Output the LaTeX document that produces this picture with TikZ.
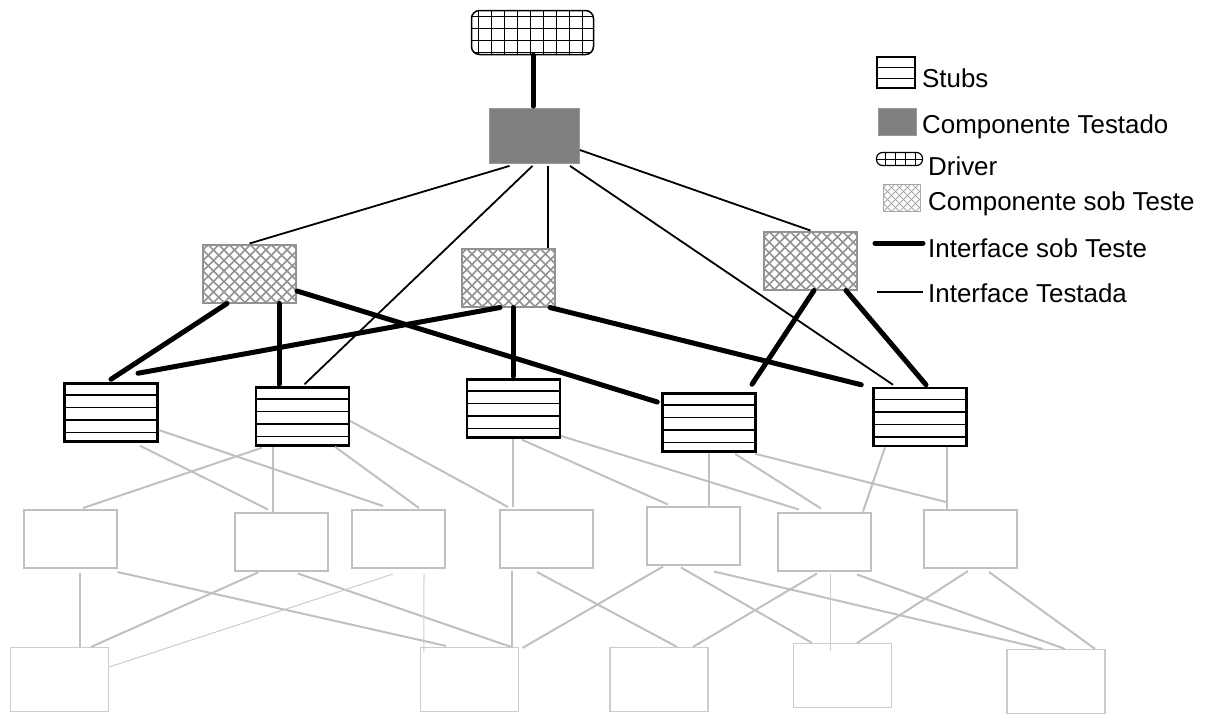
\documentclass[tikz,border=0pt]{standalone}
\usepackage{fontspec}
\setmainfont{Liberation Sans}
\usetikzlibrary{calc}
\definecolor{tbTested}{HTML}{808080}
\definecolor{tbHatch}{HTML}{929292}
\definecolor{tbLower}{HTML}{C0C0C0}
\definecolor{tbLeaf}{HTML}{CCCCCC}
\tikzset{
    tbBoxBase/.style={
        rectangle,
        inner sep=0pt,
        minimum width=93pt,
        minimum height=58pt
    },
    % Stubs
    stubbox/.style={tbBoxBase, draw=black, line width=2.5pt, fill=white,
        path picture={
            \foreach \d in {11.5pt,24pt,36.5pt,49pt}
                \draw[line width=1.2pt] ([yshift=-\d]path picture bounding box.north west) -- ([yshift=-\d]path picture bounding box.north east);
        }},
    stubicon/.style={draw=black, line width=1.3pt, inner sep=0pt, minimum width=38pt, minimum height=31pt,
        path picture={
            \foreach \d in {10pt,21pt}
                \draw[line width=1pt] ([yshift=-\d]path picture bounding box.north west) -- ([yshift=-\d]path picture bounding box.north east);
        }},
    % Componente sob Teste
    cutbox/.style={tbBoxBase, draw=tbHatch, line width=2pt, fill=white,
        path picture={
            \foreach \k in {-7,...,16}{
                \draw[tbHatch, line width=1.6pt] ([xshift=\k*10.5pt]path picture bounding box.south west) -- ++(80pt,80pt);
                \draw[tbHatch, line width=1.6pt] ([xshift=\k*10.5pt]path picture bounding box.south west) -- ++(-80pt,80pt);
            }
        }},
    cuticon/.style={draw=tbHatch!80, line width=1pt, inner sep=0pt, minimum width=37pt, minimum height=27pt,
        path picture={
            \foreach \k in {-5,...,10}{
                \draw[tbHatch!80, line width=0.8pt] ([xshift=\k*8pt]path picture bounding box.south west) -- ++(40pt,40pt);
                \draw[tbHatch!80, line width=0.8pt] ([xshift=\k*8pt]path picture bounding box.south west) -- ++(-40pt,40pt);
            }
        }},
    % Driver
    drvbox/.style={draw=black, line width=1.5pt, rounded corners=8pt, fill=white, inner sep=0pt,
        minimum width=122pt, minimum height=44pt,
        path picture={
            \foreach \k in {0,...,8}
                \draw[line width=1.3pt, sharp corners] ([xshift=6.7pt+\k*13pt]path picture bounding box.south west) -- ++(0pt,50pt);
            \foreach \k in {0,...,3}
                \draw[line width=1.3pt, sharp corners] ([yshift=-6pt-\k*12pt]path picture bounding box.north west) -- ++(130pt,0pt);
        }},
    drvicon/.style={draw=black, line width=1.2pt, rounded corners=6pt, inner sep=0pt, minimum width=46pt, minimum height=13pt,
        path picture={
            \foreach \k in {0,...,3}
                \draw[line width=1pt, sharp corners] ([xshift=9pt+\k*10pt]path picture bounding box.south west) -- ++(0pt,20pt);
            \draw[line width=1pt, sharp corners] (path picture bounding box.west) -- (path picture bounding box.east);
        }},
    % Componente Testado
    ctbox/.style={tbBoxBase, fill=tbTested, draw=tbTested!80, line width=0.8pt},
    % lower levels
    lvlbox/.style={tbBoxBase, draw=tbLower, line width=2pt, fill=white},
    leafbox/.style={tbBoxBase, draw=tbLeaf, line width=1.2pt, minimum width=98pt, minimum height=64pt}
}
\begin{document}
\begin{tikzpicture}[
    x=1pt, y=-1pt,
    sobTeste/.style={line width=5pt, line cap=round},
    testada/.style={line width=1.8pt},
    grayLink/.style={draw=tbLower, line width=2pt},
    thinLink/.style={draw=tbLeaf, line width=1pt},
    legendtext/.style={anchor=base west, inner sep=0pt, font=\fontsize{25.9}{30}\selectfont}
]
\useasboundingbox (0,0) rectangle (1205,713);

\node[drvbox] (driver) at (532.5,32.5) {};
\node[ctbox, minimum width=90pt, minimum height=55pt] (ct) at (534.5,136) {};

\node[cutbox] (cut1) at (249.5,273.5) {};
\node[cutbox] (cut2) at (508,277.5) {};
\node[cutbox] (cut3) at (810.5,260.5) {};

\node[stubbox] (s1) at (111,412.5) {};
\node[stubbox] (s2) at (302.5,416.5) {};
\node[stubbox] (s3) at (513.5,408.5) {};
\node[stubbox] (s4) at (709,422.5) {};
\node[stubbox] (s5) at (920,417) {};

\node[lvlbox] (g1) at (70,539) {};
\node[lvlbox] (g2) at (281,541.5) {};
\node[lvlbox] (g3) at (398,539) {};
\node[lvlbox] (g4) at (546,539) {};
\node[lvlbox] (g5) at (693,535.5) {};
\node[lvlbox] (g6) at (824,541.5) {};
\node[lvlbox] (g7) at (970.5,539) {};

\node[leafbox] (b1) at (59.5,679.5) {};
\node[leafbox] (b2) at (469.5,679.5) {};
\node[leafbox] (b3) at (659,679.5) {};
\node[leafbox] (b4) at (842.5,675.5) {};
\node[leafbox] (b5) at (1056,681.5) {};

% interfaces testadas
\draw[testada] ([xshift=-25pt,yshift=-2pt]ct.south) -- (cut1.north);
\draw[testada] ([xshift=-2pt,yshift=-2pt]ct.south) -- ([xshift=2pt,yshift=2pt]s2.north);
\draw[testada] ([xshift=13.5pt,yshift=-2pt]ct.south) -- ([xshift=40pt]cut2.north);
\draw[testada] ([xshift=35.5pt,yshift=-2pt]ct.south) -- ([xshift=-27pt,yshift=2pt]s5.north);
\draw[testada] ([yshift=-14pt]ct.east) -- (cut3.north);

% interfaces sob teste
\draw[sobTeste] ([xshift=0.5pt]driver.south) -- ([xshift=-1.5pt,yshift=2pt]ct.north);
\draw[sobTeste] ([xshift=-22.5pt]cut1.south) -- ([yshift=3pt]s1.north);
\draw[sobTeste] ([xshift=29.5pt]cut1.south) -- ([xshift=-23.5pt,yshift=2pt]s2.north);
\draw[sobTeste] ([yshift=-17.5pt]cut1.east) -- ([xshift=-4pt,yshift=20.5pt]s4.west);
\draw[sobTeste] ([xshift=-8pt]cut2.south) -- ([xshift=27pt,yshift=9pt]s1.north);
\draw[sobTeste] ([xshift=5pt]cut2.south) -- ([xshift=-0.5pt,yshift=2pt]s3.north);
\draw[sobTeste] ([xshift=42pt]cut2.south) -- ([xshift=-11pt,yshift=2pt]s5.north west);
\draw[sobTeste] ([xshift=3.5pt]cut3.south) -- ([xshift=43pt,yshift=8pt]s4.north);
\draw[sobTeste] ([xshift=35.5pt]cut3.south) -- ([xshift=6pt,yshift=2pt]s5.north);

% stubs -> componentes
\draw[grayLink] ([yshift=-17.5pt]s1.east) -- ([xshift=-15pt,yshift=3pt]g3.north);
\draw[grayLink] ([xshift=29pt,yshift=-3pt]s1.south) -- ([xshift=-13pt,yshift=2pt]g2.north);
\draw[grayLink] ([xshift=-40.5pt,yshift=-1pt]s2.south) -- ([xshift=13pt,yshift=1pt]g1.north);
\draw[grayLink] ([xshift=-29.5pt]s2.south) -- ([xshift=-8pt]g2.north);
\draw[grayLink] ([xshift=32.5pt]s2.south) -- ([xshift=21pt,yshift=1pt]g3.north);
\draw[grayLink] ([yshift=-4.5pt]s2.east) -- ([xshift=-38pt,yshift=2pt]g4.north);
\draw[grayLink] ([xshift=-0.5pt]s3.south) -- ([xshift=-33pt,yshift=2pt]g4.north);
\draw[grayLink] ([xshift=8.5pt,yshift=-1pt]s3.south) -- ([xshift=-25pt,yshift=1pt]g5.north);
\draw[grayLink] ([yshift=-27.5pt]s3.east) -- ([xshift=-25pt,yshift=2pt]g6.north);
\draw[grayLink] (s4.south) -- ([xshift=16pt]g5.north);
\draw[grayLink] ([xshift=26pt,yshift=-1pt]s4.south) -- ([xshift=-3pt,yshift=3pt]g6.north);
\draw[grayLink] ([xshift=46pt,yshift=-1pt]s4.south) -- ([xshift=-24.5pt,yshift=7pt]g7.north);
\draw[grayLink] ([xshift=-35pt]s5.south) -- ([xshift=39pt]g6.north);
\draw[grayLink] ([xshift=27pt]s5.south) -- ([xshift=-23.5pt]g7.north);

% componentes -> folhas
\draw[grayLink] ([xshift=10pt,yshift=-4pt]g1.south) -- ([xshift=20.5pt]b1.north);
\draw[grayLink] ([yshift=-3pt]g1.south east) -- ([xshift=-23.5pt,yshift=1pt]b2.north);
\draw[grayLink] ([xshift=-23pt,yshift=-1pt]g2.south) -- ([xshift=31.5pt]b1.north);
\draw[grayLink] ([xshift=17pt,yshift=-2pt]g2.south) -- ([xshift=41.5pt]b2.north);
\draw[thinLink] ([xshift=-5pt,yshift=-5pt]g3.south) -- ([yshift=12.5pt]b1.east);
\draw[thinLink] ([xshift=26pt,yshift=-5pt]g3.south) -- ([xshift=4pt,yshift=-5pt]b2.north west);
\draw[grayLink] ([xshift=-34pt,yshift=-2pt]g4.south) -- ([xshift=42.5pt]b2.north);
\draw[grayLink] ([xshift=-9pt,yshift=-3pt]g4.south) -- ([xshift=18pt]b3.north);
\draw[grayLink] ([xshift=-30pt,yshift=-1pt]g5.south) -- ([xshift=3.5pt,yshift=-1pt]b2.north east);
\draw[grayLink] ([xshift=-12pt,yshift=-2pt]g5.south) -- ([xshift=-30.5pt]b4.north);
\draw[grayLink] ([xshift=21pt,yshift=-6pt]g5.south) -- ([xshift=-13pt]b5.north);
\draw[grayLink] ([xshift=-7pt,yshift=-2pt]g6.south) -- ([xshift=34pt]b3.north);
\draw[thinLink] ([xshift=6pt,yshift=-2pt]g6.south) -- ([xshift=-12.5pt,yshift=-8pt]b4.north);
\draw[grayLink] ([xshift=33pt,yshift=-3pt]g6.south) -- ([xshift=9pt]b5.north);
\draw[grayLink] ([xshift=-2.5pt,yshift=-2pt]g7.south) -- ([xshift=14.5pt]b4.north);
\draw[grayLink] ([xshift=18.5pt,yshift=-3pt]g7.south) -- ([xshift=39pt]b5.north);

% legenda
\node[stubicon] (lgStub) at (896,72.5) {};
\node[legendtext] (lgStubTxt) at (922,87) {Stubs};
\node[ctbox, minimum width=38pt, minimum height=27pt] (lgCt) at (897,121.5) {};
\node[legendtext] (lgCtTxt) at (922,133) {Componente Testado};
\node[drvicon] (lgDrv) at (899.5,159) {};
\node[legendtext] (lgDrvTxt) at (928,175) {Driver};
\node[cuticon] (lgCut) at (902,198) {};
\node[legendtext] (lgCutTxt) at (928,210) {Componente sob Teste};
\coordinate (lgSobA) at (875,243);
\coordinate (lgSobB) at (923,243);
\draw[sobTeste] (lgSobA) -- (lgSobB);
\node[legendtext] (lgSobTxt) at (928,257) {Interface sob Teste};
\coordinate (lgTstA) at (877,292);
\coordinate (lgTstB) at (923,292);
\draw[testada] (lgTstA) -- (lgTstB);
\node[legendtext] (lgTstTxt) at (928,302) {Interface Testada};
\end{tikzpicture}
\end{document}
